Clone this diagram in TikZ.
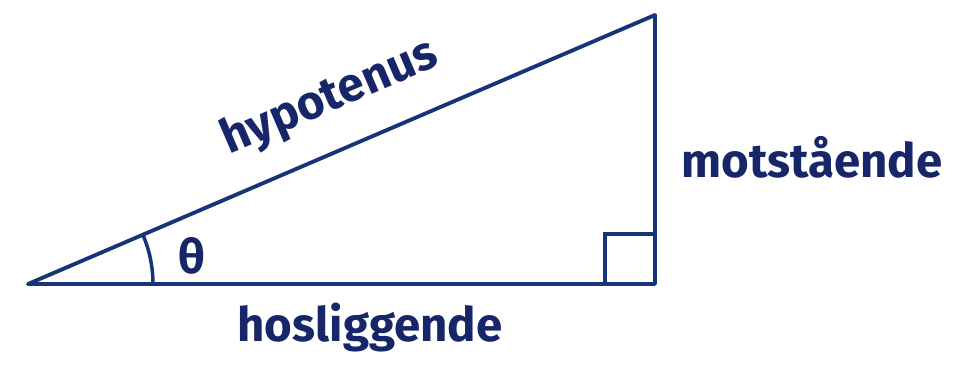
\documentclass[tikz,border=0pt]{standalone}
\usepackage{fontspec}
\setmainfont{Fira Sans}
\usetikzlibrary{calc}
\definecolor{penblue}{RGB}{24,52,120}
\definecolor{inkblue}{RGB}{22,38,104}
\begin{document}
\begin{tikzpicture}[
    x=0.02cm, y=-0.02cm,
    side/.style={
        draw=penblue,
        line width=2.2pt,
        line join=round
    },
    marker/.style={
        draw=penblue,
        line width=2pt
    },
    sidelabel/.style={
        text=inkblue,
        font=\fontsize{27}{30}\selectfont\bfseries
    }
]
\useasboundingbox (0,0) rectangle (958,379);

% ============ TRIANGLE ============
\coordinate (A) at (28,284);
\coordinate (C) at (655,284);
\coordinate (B) at (655,15);

\draw[side] (A) -- (C) -- (B) -- cycle;

% Right angle mark
\def\sq{50}
\draw[marker] ($(C)+(-\sq,0)$) -- ++(0,-\sq) -- ++(\sq,0);

% Angle mark (y axis points down, so the angle is negative)
\def\arcr{125}
\draw[marker] ($(A)+(\arcr,0)$) arc[start angle=0, end angle=-23.2, radius=\arcr];

% ============ LABELS ============
\node[sidelabel, rotate=23.2] (hyp) at (330,98) {hypotenus};
\node[sidelabel] (mot) at (812,157) {motstående};
\node[sidelabel] (hos) at (370,328) {hosliggende};
\node[sidelabel] (theta) at (192,256) {θ};

\end{tikzpicture}
\end{document}
